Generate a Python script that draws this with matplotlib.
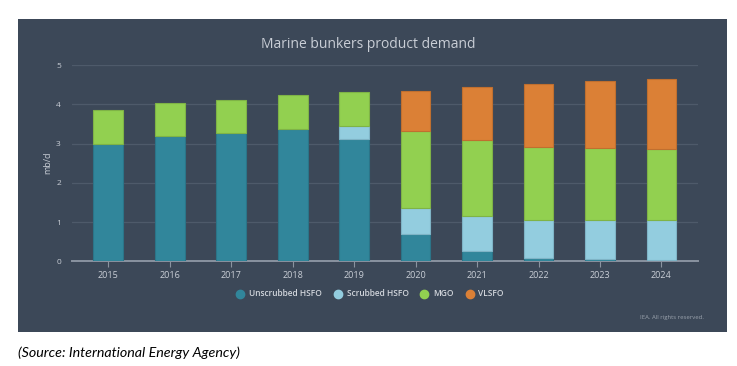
import matplotlib
matplotlib.use("Agg")
import matplotlib.pyplot as plt
from matplotlib.lines import Line2D
import numpy as np

years = ["2015", "2016", "2017", "2018", "2019", "2020", "2021", "2022", "2023", "2024"]
unscrubbed_hsfo = [3.00, 3.18, 3.27, 3.36, 3.11, 0.69, 0.27, 0.08, 0.06, 0.03]
scrubbed_hsfo   = [0.00, 0.00, 0.00, 0.00, 0.34, 0.68, 0.89, 0.98, 1.00, 1.03]
mgo             = [0.85, 0.85, 0.85, 0.87, 0.87, 1.95, 1.92, 1.86, 1.83, 1.80]
vlsfo           = [0.00, 0.00, 0.00, 0.00, 0.00, 1.02, 1.36, 1.60, 1.69, 1.79]
series_names = ["Unscrubbed HSFO", "Scrubbed HSFO", "MGO", "VLSFO"]
yticks = [0, 1, 2, 3, 4, 5]

colors = ["#31869b", "#93cddf", "#92d050", "#db8036"]
edge_colors = ["#2b7488", "#7fb4c6", "#7fb346", "#c06f2f"]
panel_bg = "#3c4858"
text_col = "#c9ced6"
grid_col = "#4e5a6a"

W, H = 737, 366
fig = plt.figure(figsize=(W / 100, H / 100), dpi=100)
fig.patch.set_facecolor("white")

# dark panel (background axes)
bg = fig.add_axes([18 / W, 1 - 332 / H, (727 - 18) / W, (332 - 19) / H])
bg.set_facecolor(panel_bg)
bg.set_xticks([])
bg.set_yticks([])
for s in bg.spines.values():
    s.set_visible(False)
bg.set_zorder(0)

ax = fig.add_axes([72 / W, 1 - 261.3 / H, 625.7 / W, 196.3 / H])
ax.set_facecolor("none")
ax.set_zorder(1)

x = np.arange(len(years))
bottom = np.zeros(len(years))
data = [unscrubbed_hsfo, scrubbed_hsfo, mgo, vlsfo]
for vals, c, ec, name in zip(data, colors, edge_colors, series_names):
    vals = np.array(vals)
    m = vals > 0
    ax.bar(x[m], vals[m], width=0.485, bottom=bottom[m], color=c, edgecolor=ec,
           linewidth=0.8, zorder=3, label=name)
    bottom += vals

ax.set_xlim(-0.59, 9.59)
ax.set_ylim(0, 5)
ax.set_yticks(yticks)
ax.set_yticklabels([str(t) for t in yticks], fontsize=6, color=text_col,
                   family="Open Sans")
ax.set_xticks(x)
ax.set_xticklabels(years, fontsize=6.5, color=text_col, family="Open Sans")
ax.tick_params(axis="y", length=0, pad=8)
ax.tick_params(axis="x", length=4, width=0.8, color="#8a93a0", pad=3)
ax.grid(axis="y", color=grid_col, linewidth=0.9, zorder=0)
for s in ["top", "right", "left"]:
    ax.spines[s].set_visible(False)
ax.spines["bottom"].set_color("#8a93a0")
ax.spines["bottom"].set_linewidth(1.4)
ax.set_ylabel("mb/d", fontsize=6.5, color=text_col, family="Open Sans", labelpad=3)

fig.text(368 / W, 1 - 44.5 / H, "Marine bunkers product demand", ha="center",
         va="center", fontsize=10, color=text_col, family="Open Sans")

handles = [Line2D([0], [0], marker="o", linestyle="none", markersize=6,
                  markerfacecolor=c, markeredgecolor=c) for c in colors]
leg = fig.legend(handles, series_names, loc="center", bbox_to_anchor=(370 / W, 1 - 294 / H),
                 ncol=4, frameon=False, fontsize=6, handletextpad=0.55,
                 columnspacing=1.4, handlelength=1.0)
for t in leg.get_texts():
    t.set_color("#d2d6dc")
    t.set_family("Open Sans")
    t.set_fontweight("semibold")

fig.text(704 / W, 1 - 318 / H, "IEA. All rights reserved.", ha="right", va="center",
         fontsize=4.3, color="#9aa2ad", family="Open Sans")

fig.text(18 / W, 1 - 353 / H, "(Source: International Energy Agency)", ha="left",
         va="center", fontsize=10.3, color="black", family="Lato", style="italic")

fig.savefig("out.png", dpi=100, facecolor="white")
